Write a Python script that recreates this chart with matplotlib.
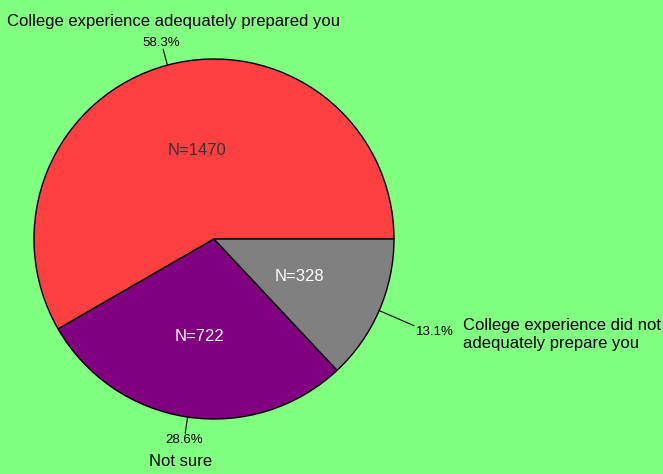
import numpy as np
import matplotlib
matplotlib.use("Agg")
import matplotlib.pyplot as plt

plt.rcParams['font.family'] = ['Liberation Sans', 'DejaVu Sans']

# data
categories = ["College experience adequately prepared you",
              "Not sure",
              "College experience did not\nadequately prepare you"]
counts = [1470, 722, 328]
percents = ["58.3%", "28.6%", "13.1%"]
colors = ["#FF4040", "#800080", "#808080"]
n_text_colors = ["#333333", "white", "white"]

fig = plt.figure(figsize=(6.63, 4.74), dpi=100)
fig.patch.set_facecolor("#80FF80")
ax = fig.add_axes([0, 0, 1, 1])
ax.set_facecolor("#80FF80")

wedges, _ = ax.pie(counts, colors=colors, startangle=0, counterclock=True,
                   radius=1.0, wedgeprops=dict(edgecolor="black", linewidth=1.0))

ax.set_xlim(-214 / 180, (663 - 214) / 180)
ax.set_ylim(-235 / 180, 239 / 180)
ax.set_aspect("auto")
ax.axis("off")

# label placement (radius multipliers / nudges tuned per slice)
n_r = [0.51, 0.55, 0.52]
n_dx = [0.035, 0.0, 0.0]
line_r = [1.09, 1.09, 1.21]
for i, w in enumerate(wedges):
    mid = np.deg2rad((w.theta1 + w.theta2) / 2)
    c, s = np.cos(mid), np.sin(mid)
    # N label inside
    ax.text(n_r[i] * c + n_dx[i], n_r[i] * s, f"N={counts[i]}", ha="center",
            va="center", fontsize=12, color=n_text_colors[i])
    # tick line
    ax.plot([c, line_r[i] * c], [s, line_r[i] * s], color="black", lw=0.8)
    if i == 0:
        ax.text(1.13 * c, 1.13 * s, percents[i], ha="center", va="center",
                fontsize=9.5)
        ax.text(1.25 * c + 0.1, 1.25 * s, categories[i], ha="center",
                va="center", fontsize=12)
    elif i == 1:
        ax.text(1.13 * c, 1.13 * s, percents[i], ha="center", va="center",
                fontsize=9.5)
        ax.text(1.25 * c, 1.25 * s, categories[i], ha="center", va="center",
                fontsize=12)
    else:
        ax.text(1.12 * c + 0.096, 1.12 * s - 0.074, percents[i], ha="left",
                va="center", fontsize=9.5)
        ax.text(1.12 * c + 0.357, 1.12 * s - 0.085, categories[i], ha="left",
                va="center", fontsize=12)

fig.savefig("out.png", dpi=100, facecolor=fig.get_facecolor())
